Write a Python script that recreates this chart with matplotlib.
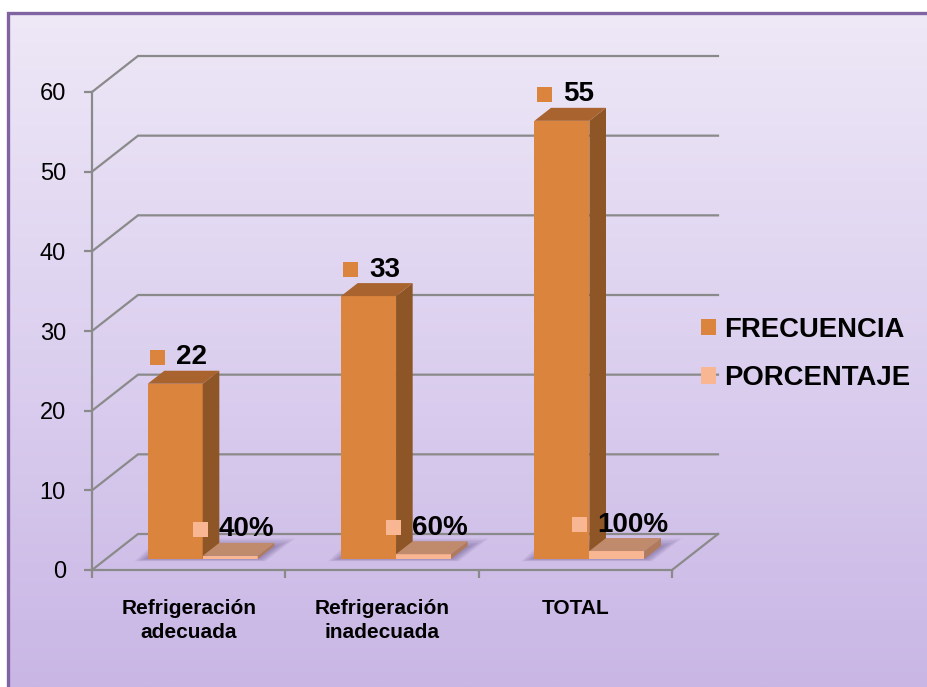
import numpy as np
import matplotlib
matplotlib.use("Agg")
import matplotlib.pyplot as plt
from matplotlib.patches import Polygon, Rectangle, Patch
from matplotlib.offsetbox import AnnotationBbox, HPacker, TextArea, DrawingArea
from matplotlib.colors import LinearSegmentedColormap

plt.rcParams['font.family'] = ['Liberation Sans', 'DejaVu Sans']

# ---- data ----
categories = ["Refrigeración\nadecuada", "Refrigeración\ninadecuada", "TOTAL"]
frecuencia = [22, 33, 55]
porcentaje = [0.40, 0.60, 1.00]
series = ["FRECUENCIA", "PORCENTAJE"]
y_ticks = [0, 10, 20, 30, 40, 50, 60]

# ---- styling ----
FREC_FRONT, FREC_SIDE, FREC_TOP = '#db843d', '#8e5527', '#a9632f'
PORC_FRONT, PORC_SIDE, PORC_TOP = '#f9b692', '#b07a5c', '#c08b6d'
GRID = '#8a8a8a'
BORDER = '#8064a2'

W, H, DPI = 928, 687, 100
fig = plt.figure(figsize=(W / DPI, H / DPI), dpi=DPI, facecolor='white')

# chart panel: vertical lavender gradient with a purple frame
bg = fig.add_axes([0, 0, 1, 1])
bg.set_xlim(0, W)
bg.set_ylim(H, 0)
bg.axis('off')
grad = np.linspace(0, 1, 256).reshape(-1, 1)
cmap = LinearSegmentedColormap.from_list('panel', ['#eee8f7', '#dcd0ef', '#c9b6e5'])
bg.imshow(grad, cmap=cmap, extent=[8, W, H, 13], aspect='auto', zorder=0)
bg.plot([8, 8, W], [H, 13, 13], color=BORDER, lw=2.4, solid_joinstyle='miter', zorder=1)

# plotting area (front plane of the 3-D box)
left_px, right_px, bottom_px, top_px = 92, 672, 570, 92
ax = fig.add_axes([left_px / W, (H - bottom_px) / H,
                   (right_px - left_px) / W, (bottom_px - top_px) / H])
ax.set_xlim(-0.5, 2.5)
ax.set_ylim(0, 60)
ax.patch.set_alpha(0)

px_x = (right_px - left_px) / 3.0
px_y = (bottom_px - top_px) / 60.0
depth = np.array([46 / px_x, 36 / px_y])      # full depth of the box, data units
f_front, f_back = 11 / 36, 24 / 36             # bar slab inside the box depth
bw = 55 / px_x                                 # bar width, data units

# back wall gridlines with their diagonal connectors
x0, x1 = ax.get_xlim()
dx, dy = depth
for v in y_ticks:
    ax.plot([x0, x0 + dx, x1 + dx], [v, v + dy, v + dy], color=GRID, lw=1.6,
            zorder=1, clip_on=False, solid_joinstyle='miter')
ax.plot([x1, x1 + dx], [0, dy], color=GRID, lw=1.6, zorder=1, clip_on=False)

for side in ['top', 'right']:
    ax.spines[side].set_visible(False)
for side in ['left', 'bottom']:
    ax.spines[side].set_color(GRID)
    ax.spines[side].set_linewidth(1.6)
    ax.spines[side].set_zorder(1)

ax.set_yticks(y_ticks)
ax.set_yticklabels([str(t) for t in y_ticks])
ax.tick_params(axis='y', direction='out', length=5.8, width=1.6, color=GRID,
               pad=13, labelsize=17, labelcolor='black')
xs = np.arange(len(categories))
ax.set_xticks(xs)
ax.set_xticklabels(categories, fontsize=15, fontweight='bold', linespacing=1.3)
ax.tick_params(axis='x', which='major', length=0, pad=21)
ax.set_xticks(np.arange(len(categories) + 1) - 0.5, minor=True)
ax.tick_params(axis='x', which='minor', direction='out', length=5.8, width=1.6, color=GRID)

fdx, fdy = depth * f_front
ddx, ddy = depth * (f_back - f_front)


def shadow(xl, xr):
    """Soft footprint shadow on the floor under a bar group."""
    for k in range(6):
        e = (2 + 2.2 * k) / px_x
        ey = (1.5 * k) / px_y
        pts = [(xl + fdx - e, fdy - ey * 0.3), (xr + fdx + e * 0.6, fdy - ey * 0.3),
               (xr + fdx + ddx + e * 1.6, fdy + ddy + ey),
               (xl + fdx + ddx - e * 0.4, fdy + ddy + ey)]
        ax.add_patch(Polygon(pts, closed=True, facecolor='#4a3a72', edgecolor='none',
                             alpha=0.08, zorder=2, clip_on=False))


def box(xl, v, side, top, z):
    xr = xl + bw
    ax.add_patch(Polygon([(xr + fdx, fdy), (xr + fdx + ddx, fdy + ddy),
                          (xr + fdx + ddx, fdy + ddy + v), (xr + fdx, fdy + v)],
                         closed=True, facecolor=side, edgecolor='none', zorder=z, clip_on=False))
    ax.add_patch(Polygon([(xl + fdx, fdy + v), (xr + fdx, fdy + v),
                          (xr + fdx + ddx, fdy + ddy + v), (xl + fdx + ddx, fdy + ddy + v)],
                         closed=True, facecolor=top, edgecolor='none', zorder=z, clip_on=False))


for c in xs:
    shadow(c - bw, c + bw)

# front faces drawn through the bar API, slab offset as the bar bottom
ax.bar(xs - bw / 2 + fdx, frecuencia, bw, bottom=fdy, color=FREC_FRONT, zorder=3, clip_on=False)
ax.bar(xs + bw / 2 + fdx, porcentaje, bw, bottom=fdy, color=PORC_FRONT, zorder=4, clip_on=False)
for c, f, p in zip(xs, frecuencia, porcentaje):
    box(c - bw, f, FREC_SIDE, FREC_TOP, 3)
    box(c, p, PORC_SIDE, PORC_TOP, 4)

# value labels with a colour key, centred above each bar top
mid = depth * (f_front + f_back) / 2
mk = 15 * 0.72


def value_label(x, v, text, color):
    da = DrawingArea(mk, mk, 0, 0)
    da.add_artist(Rectangle((0, 0), mk, mk, facecolor=color, edgecolor='none'))
    ta = TextArea(text, textprops=dict(fontsize=20, fontweight='bold', color='black'))
    packed = HPacker(children=[da, ta], align='center', pad=0, sep=8)
    ab = AnnotationBbox(packed, (x + mid[0], v + mid[1]), xycoords='data',
                        xybox=(-3.6, 14.4), boxcoords='offset points', frameon=False,
                        box_alignment=(0.5, 0.5), annotation_clip=False, zorder=6)
    ax.add_artist(ab)


for c, f, p in zip(xs, frecuencia, porcentaje):
    value_label(c - bw / 2, f, f"{f}", FREC_FRONT)
    value_label(c + bw / 2, p, f"{p:.0%}", PORC_FRONT)

# legend
handles = [Patch(facecolor=FREC_FRONT, edgecolor='none'),
           Patch(facecolor=PORC_FRONT, edgecolor='none')]
fig.legend(handles, series, loc='center left', bbox_to_anchor=(701 / W, 1 - 354 / H),
           frameon=False, prop=dict(weight='bold', size=19.8), handlelength=0.55,
           handleheight=0.55, handletextpad=0.28, labelspacing=0.82, borderpad=0,
           borderaxespad=0)

fig.savefig('out.png', dpi=DPI, facecolor='white')
